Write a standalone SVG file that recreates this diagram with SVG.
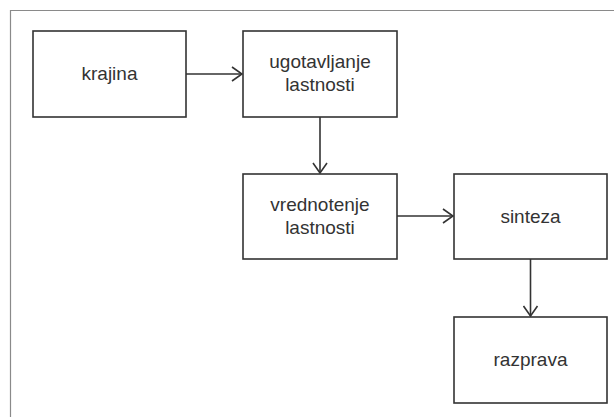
<svg xmlns="http://www.w3.org/2000/svg" width="614" height="417" viewBox="0 0 614 417">
  <defs>
    <marker id="arrow" viewBox="0 0 12 16" refX="11" refY="8" markerWidth="12" markerHeight="16" markerUnits="userSpaceOnUse" orient="auto">
      <path d="M1,1 L11,8 L1,15" fill="none" stroke="#333" stroke-width="1.6"/>
    </marker>
  </defs>
  <style>
    .box { fill: #fff; stroke: #333; stroke-width: 1.6; }
    .label { font-family: "Liberation Sans", Arial, sans-serif; font-size: 19px; fill: #333; text-anchor: middle; }
    .edge { fill: none; stroke: #333; stroke-width: 1.6; marker-end: url(#arrow); }
  </style>
  <rect width="614" height="417" fill="#fff"/>
  <!-- outer frame, running off the right and bottom edges -->
  <path d="M10.5,430 L10.5,10.5 L630,10.5" fill="none" stroke="#8a8a8a" stroke-width="1.2"/>

  <g id="krajina">
    <rect class="box" x="33" y="31" width="153" height="86"/>
    <text class="label" x="109.5" y="80">krajina</text>
  </g>
  <g id="ugotavljanje">
    <rect class="box" x="243" y="31" width="154" height="86"/>
    <text class="label" x="320" y="68">ugotavljanje</text>
    <text class="label" x="320" y="91">lastnosti</text>
  </g>
  <g id="vrednotenje">
    <rect class="box" x="243" y="174" width="154" height="85"/>
    <text class="label" x="320" y="211">vrednotenje</text>
    <text class="label" x="320" y="234">lastnosti</text>
  </g>
  <g id="sinteza">
    <rect class="box" x="454" y="174" width="153" height="85"/>
    <text class="label" x="530.5" y="223">sinteza</text>
  </g>
  <g id="razprava">
    <rect class="box" x="454" y="317" width="153" height="86"/>
    <text class="label" x="530.5" y="366">razprava</text>
  </g>

  <g id="connectors">
    <path class="edge" d="M186,74 L242,74"/>
    <path class="edge" d="M320,117 L320,173"/>
    <path class="edge" d="M397,216 L453,216"/>
    <path class="edge" d="M530.5,259 L530.5,316"/>
  </g>
</svg>
